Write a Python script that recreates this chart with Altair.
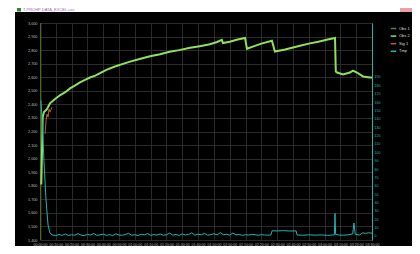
import altair as alt
import pandas as pd

# ---------------- data ----------------
x_ticks = list(range(0, 211, 10))
left_ticks = list(range(1400, 3001, 100))
right_ticks = list(range(0, 191, 10))

series_names = ["Obs 1", "Obs 2", "Sig 1", "Tmp"]
series_colors = ["#5b7d2b", "#8fe05c", "#b8621e", "#22b5b0"]

green_min = [0.8, 1.1, 1.4, 1.7, 2.5, 4.4, 6.3, 9.5, 12.6, 16, 19, 22, 25.3, 28.5, 31.6,
             35, 38, 42, 47.4, 52, 57, 63, 69.6, 76, 82, 88, 95, 101, 107.5, 112,
             115, 115.7, 120, 125, 129.7, 130.9, 135, 140, 146.7, 148.6, 155, 164.5, 170, 176, 182,
             186.6, 187.1, 187.9, 191.6, 196, 198, 200.5, 204.3, 208.7, 210]
green_val = [1809, 1960, 2140, 2306, 2343, 2364, 2408, 2440, 2467, 2490, 2518, 2538, 2562, 2580, 2598,
             2612, 2631, 2655, 2679, 2697, 2715, 2735, 2755, 2770, 2788, 2800, 2817, 2829, 2843, 2860,
             2876, 2852, 2862, 2878, 2890, 2810, 2828, 2848, 2869, 2790, 2805, 2832, 2848, 2862, 2878,
             2890, 2642, 2635, 2620, 2635, 2649, 2635, 2606, 2598, 2598]

orange_min = [3.2, 3.8, 4.4, 5.1, 5.7, 6.3, 7.6]
orange_val = [2182, 2277, 2328, 2306, 2364, 2343, 2379]

olive_min = [0.5, 0.5]
olive_val = [1400, 3000]

cyan_min = [0.6, 1.6, 2.5, 3.8, 5.1, 6.3,
            8, 10, 12, 14, 16, 18, 20, 22, 24, 26, 28, 30, 32, 34, 36, 38, 40, 42, 44, 46,
            48, 50, 52, 54, 56, 58, 60, 62, 64, 66, 68, 70, 72, 74, 76, 78, 80, 82, 84, 86,
            88, 90, 92, 94, 96, 98, 100, 102, 104, 106, 108, 110, 112, 114, 116, 118, 120,
            122, 124, 126, 128, 130, 132, 134, 136, 138, 140, 142, 144, 146,
            146.8, 150, 154, 158, 162, 162.6, 166, 170, 174, 178, 182, 185, 186.2, 186.6, 187.0,
            189, 192, 195, 197.8, 198.6, 199.4, 202, 204, 206, 208, 210]
cyan_val = [162, 130, 90, 43, 13, 3.6,
            1.2, 0.4, 1.8, 0.8, 2.4, 0.6, 1.5, 0.9, 2.8, 1.0,
            0.5, 1.9, 1.2, 3.0, 0.7, 1.4, 2.2, 0.8, 1.6, 0.5,
            2.6, 1.1, 0.9, 1.8, 3.2, 1.0, 1.5, 0.6, 2.0, 1.3,
            2.9, 0.8, 1.7, 1.1, 2.4, 0.9, 1.5, 3.4, 1.0, 1.8,
            0.7, 2.5, 1.2, 1.9, 3.8, 1.0, 2.2, 1.4, 3.1, 0.9,
            1.6, 2.7, 1.2, 4.0, 1.5, 2.1, 1.0, 3.5, 1.3, 1.8,
            0.8, 1.5, 1.1, 2.0, 1.4, 0.9, 1.6, 1.2, 1.0, 1.3,
            6.2, 6.0, 6.4, 5.9, 6.1, 1.2, 0.9, 1.4, 1.0, 1.3,
            0.8, 1.1, 1.5, 27, 2.0, 1.2, 0.9, 1.4, 2.5, 15.5,
            2.0, 1.1, 3.6, 3.2, 3.8, 3.4]

title_text = "T-PROHP DATA_EXCEL.csv"

# ---------------- frames ----------------
left_rows = []
for i, (m, v) in enumerate(zip(olive_min, olive_val)):
    left_rows.append({"m": m, "v": v, "s": "Obs 1", "o": i, "w": 1.0})
for i, (m, v) in enumerate(zip(green_min, green_val)):
    left_rows.append({"m": m, "v": v, "s": "Obs 2", "o": i, "w": 2.0})
for i, (m, v) in enumerate(zip(orange_min, orange_val)):
    left_rows.append({"m": m, "v": v, "s": "Sig 1", "o": i, "w": 1.0})
left_df = pd.DataFrame(left_rows)
right_df = pd.DataFrame({"m": cyan_min, "v": cyan_val, "s": "Tmp", "o": list(range(len(cyan_min)))})

FONT = "Liberation Sans"
time_expr = ("format(floor(datum.value/60),'02d') + ':' + "
             "format(datum.value % 60,'02d') + ':00'")

x_axis = alt.Axis(values=x_ticks, labelExpr=time_expr, title=None, grid=True,
                  gridColor="#353535", gridWidth=0.8, ticks=False, domain=False,
                  labelColor="#b8b8b8", labelFontSize=3.6, labelPadding=2,
                  labelFlush=False, labelOverlap=False, labelFont=FONT)
x_scale = alt.Scale(domain=[0, 210], nice=False, zero=False)

color_enc = alt.Color("s:N", scale=alt.Scale(domain=series_names, range=series_colors),
                      legend=alt.Legend(orient="none", legendX=350, legendY=2, title=None,
                                        labelColor="#dddddd", labelFontSize=4, labelFont=FONT,
                                        symbolType="stroke", symbolSize=30, symbolStrokeWidth=1.5,
                                        rowPadding=0.6, labelOffset=2, padding=0))

left_layer = alt.Chart(left_df).mark_line().encode(
    x=alt.X("m:Q", scale=x_scale, axis=x_axis),
    y=alt.Y("v:Q", scale=alt.Scale(domain=[1400, 3000], nice=False, zero=False),
            axis=alt.Axis(orient="left", values=left_ticks, title=None, grid=True,
                          gridColor="#353535", gridWidth=0.8, ticks=False, domain=False,
                          labelColor="#b8b8b8", labelFontSize=3.8, labelPadding=3,
                          labelFont=FONT)),
    color=color_enc,
    detail="s:N",
    order="o:Q",
    strokeWidth=alt.StrokeWidth("w:Q", scale=None, legend=None),
)

right_layer = alt.Chart(right_df).mark_line(strokeWidth=1.0).encode(
    x=alt.X("m:Q", scale=x_scale, axis=x_axis),
    y=alt.Y("v:Q", scale=alt.Scale(domain=[-4.8, 254.5], nice=False, zero=False),
            axis=alt.Axis(orient="right", values=right_ticks, title=None, grid=False,
                          ticks=False, domain=True, domainColor="#22b5b0",
                          labelColor="#22b5b0", labelFontSize=3.6, labelPadding=2,
                          labelFont=FONT)),
    color=color_enc,
    order="o:Q",
)

# decoration (window frame)
dummy = pd.DataFrame({"k": [0]})
left_strip = alt.Chart(dummy).mark_rect(color="white").encode(
    x=alt.value(-32), x2=alt.value(-25), y=alt.value(-15), y2=alt.value(223))
top_bar = alt.Chart(dummy).mark_rect(color="white").encode(
    x=alt.value(-32), x2=alt.value(372), y=alt.value(-15), y2=alt.value(-11))
close_btn = alt.Chart(dummy).mark_rect(color="#e8a0a0").encode(
    x=alt.value(360), x2=alt.value(372), y=alt.value(-15), y2=alt.value(-11))
icon = alt.Chart(dummy).mark_rect(color="#2f8a2f").encode(
    x=alt.value(-23), x2=alt.value(-19), y=alt.value(-15), y2=alt.value(-11.5))
title = alt.Chart(dummy).mark_text(align="left", baseline="middle", fontSize=4,
                                   font=FONT, color="#a45cc4").encode(
    x=alt.value(-17), y=alt.value(-13), text=alt.value(title_text))

data_layers = alt.layer(left_layer, right_layer).resolve_scale(y="independent")

chart = alt.layer(left_strip, top_bar, close_btn, icon, title, data_layers).properties(
    width=332, height=217,
    autosize=alt.AutoSizeParams(type="none"),
    padding={"left": 32, "top": 15, "right": 40, "bottom": 6},
    background="#000000",
).configure_view(stroke=None)

chart.save("out.html", embed_options={"renderer": "svg", "actions": False})
